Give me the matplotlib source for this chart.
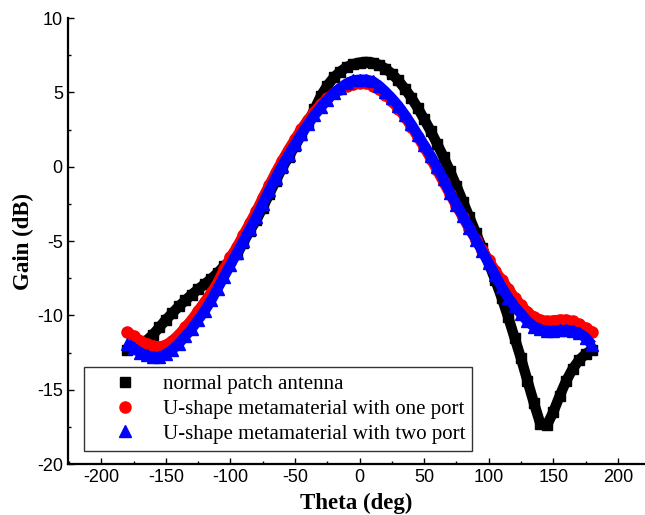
import matplotlib.pyplot as plt
from matplotlib.ticker import MultipleLocator

# angoli (deg) e guadagni (dB)
theta = list(range(-180, 181, 5))

gain_normal = [
    -12.3, -12.2, -12.0, -11.7, -11.3, -10.8, -10.3, -9.85, -9.4, -9.0,
    -8.6, -8.25, -7.9, -7.55, -7.15, -6.7, -6.3, -5.9, -5.1, -4.3,
    -3.6, -2.75, -1.85, -0.95, -0.1, 0.65, 1.4, 2.15, 2.95, 3.85,
    4.75, 5.45, 6.0, 6.4, 6.7, 6.9, 7.0, 7.05, 7.0, 6.85,
    6.6, 6.25, 5.8, 5.25, 4.65, 3.95, 3.2, 2.4, 1.55, 0.65,
    -0.3, -1.3, -2.35, -3.4, -4.45, -5.5, -6.5, -7.6, -8.8, -10.1,
    -11.5, -12.9, -14.4, -15.9, -17.3, -17.4, -16.5, -15.4, -14.4, -13.6,
    -13.0, -12.6, -12.3,
]

gain_one_port = [
    -11.1, -11.4, -11.7, -11.9, -12.05, -12.1, -12.0, -11.7, -11.3, -10.8,
    -10.3, -9.7, -9.1, -8.5, -7.8, -6.9, -6.1, -5.4, -4.6, -3.8,
    -3.0, -2.1, -1.25, -0.4, 0.4, 1.15, 1.85, 2.55, 3.15, 3.7,
    4.2, 4.6, 4.95, 5.25, 5.45, 5.55, 5.6, 5.6, 5.45, 5.2,
    4.85, 4.4, 3.9, 3.35, 2.7, 2.0, 1.3, 0.55, -0.25, -1.05,
    -1.85, -2.65, -3.4, -4.2, -4.9, -5.6, -6.3, -7.0, -7.6, -8.2,
    -8.8, -9.3, -9.8, -10.1, -10.3, -10.4, -10.35, -10.3, -10.3, -10.4,
    -10.6, -10.85, -11.1,
]

gain_two_port = [
    -11.9, -12.2, -12.5, -12.7, -12.8, -12.8, -12.6, -12.3, -11.9, -11.4,
    -10.9, -10.3, -9.7, -9.0, -8.2, -7.4, -6.6, -5.8, -5.0, -4.2,
    -3.4, -2.5, -1.6, -0.75, 0.05, 0.8, 1.5, 2.2, 2.85, 3.45,
    4.0, 4.5, 4.95, 5.3, 5.6, 5.8, 5.85, 5.85, 5.75, 5.45,
    5.05, 4.6, 4.1, 3.5, 2.85, 2.15, 1.45, 0.75, -0.05, -0.85,
    -1.75, -2.55, -3.3, -4.1, -4.9, -5.7, -6.5, -7.3, -8.1, -8.8,
    -9.4, -9.9, -10.4, -10.75, -10.95, -11.05, -11.05, -11.0, -11.0, -11.05,
    -11.2, -11.5, -12.0,
]

labels = [
    "normal patch antenna",
    "U-shape metamaterial with one port",
    "U-shape metamaterial with two port",
]

plt.rcParams["axes.unicode_minus"] = False

fig = plt.figure(figsize=(6.45, 5.15), dpi=100)
ax = fig.add_axes([0.105, 0.099, 0.895, 0.866])

# banda spessa + marcatori fitti, come nell'originale
ax.plot(theta, gain_normal, color="black", lw=7.5, solid_capstyle="butt")
ax.plot(theta, gain_normal, "s", color="black", ms=7.5, label=labels[0])
ax.plot(theta, gain_one_port, color="red", lw=7.5, solid_capstyle="butt")
ax.plot(theta, gain_one_port, "o", color="red", ms=8, label=labels[1])
ax.plot(theta, gain_two_port, color="blue", lw=7.5, solid_capstyle="butt")
ax.plot(theta, gain_two_port, "^", color="blue", ms=8.5, label=labels[2])

ax.set_xlim(-226, 221)
ax.set_ylim(-20, 10)
ax.xaxis.set_major_locator(MultipleLocator(50))
ax.xaxis.set_minor_locator(MultipleLocator(25))
ax.yaxis.set_major_locator(MultipleLocator(5))
ax.yaxis.set_minor_locator(MultipleLocator(2.5))

for side in ["top", "right"]:
    ax.spines[side].set_visible(False)
for side in ["left", "bottom"]:
    ax.spines[side].set_linewidth(1.6)

ax.tick_params(which="major", direction="in", length=4, width=1, labelsize=13)
ax.tick_params(which="minor", direction="in", length=2, width=1)
for lab in ax.get_xticklabels() + ax.get_yticklabels():
    lab.set_family("Liberation Sans")

ax.set_xlabel("Theta (deg)", family="Liberation Serif", fontweight="bold", fontsize=16.5, labelpad=5)
ax.set_ylabel("Gain (dB)", family="Liberation Serif", fontweight="bold", fontsize=16.5, labelpad=2)

leg = ax.legend(loc="lower left", bbox_to_anchor=(0.029, 0.029), borderaxespad=0,
                prop={"family": "Liberation Serif", "size": 15}, frameon=True,
                fancybox=False, edgecolor="black", handlelength=3.2, handletextpad=0.2,
                labelspacing=0.25, borderpad=0.35)
leg.get_frame().set_linewidth(1.0)

fig.savefig("out.png", dpi=100)
